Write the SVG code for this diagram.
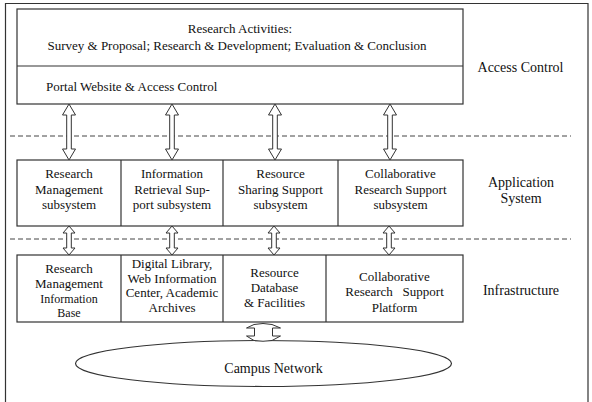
<svg xmlns="http://www.w3.org/2000/svg" width="592" height="402" viewBox="0 0 592 402">
<style>
  .box{fill:#fff;stroke:#333;stroke-width:1.2}
  .ln{fill:none;stroke:#333;stroke-width:1.2}
  .dash{fill:none;stroke:#444;stroke-width:1;stroke-dasharray:5,3}
  .arr{fill:#fff;stroke:#333;stroke-width:1}
  text{font-family:"Liberation Serif",serif;fill:#111;text-anchor:middle}
  .t13{font-size:13px}
  .t12{font-size:12px}
  .t14{font-size:14px}
</style>
<rect x="0" y="0" width="592" height="402" fill="#fff"/>
<path class="ln" d="M5.5,404 V3.5 H588 V404" stroke="#555" stroke-width="1.4"/>

<g id="dividers">
  <line class="dash" x1="10" y1="136" x2="571" y2="136"/>
  <line class="dash" x1="10" y1="239" x2="571" y2="239"/>
</g>

<g id="top-box" font-family="Liberation Serif, serif">
  <rect class="box" x="17" y="9" width="446" height="95"/>
  <line class="ln" x1="17" y1="66" x2="463" y2="66"/>
  <text class="t13" x="240" y="33">Research Activities:</text>
  <text class="t13" x="237" y="50">Survey &amp; Proposal; Research &amp; Development; Evaluation &amp; Conclusion</text>
  <text class="t13" x="46" y="91" style="text-anchor:start">Portal Website &amp; Access Control</text>
</g>

<g id="app-system">
  <rect class="box" x="17" y="160" width="446" height="66"/>
  <line class="ln" x1="121" y1="160" x2="121" y2="226"/>
  <line class="ln" x1="223" y1="160" x2="223" y2="226"/>
  <line class="ln" x1="338" y1="160" x2="338" y2="226"/>
  <g id="app-rm">
    <text class="t13" x="69" y="178">Research</text>
    <text class="t13" x="69" y="193.5">Management</text>
    <text class="t13" x="69" y="209">subsystem</text>
  </g>
  <g id="app-ir">
    <text class="t13" x="172" y="178">Information</text>
    <text class="t13" x="172" y="193.5">Retrieval Sup-</text>
    <text class="t13" x="172" y="209">port subsystem</text>
  </g>
  <g id="app-rs">
    <text class="t13" x="280.5" y="178">Resource</text>
    <text class="t13" x="280.5" y="193.5">Sharing Support</text>
    <text class="t13" x="280.5" y="209">subsystem</text>
  </g>
  <g id="app-cr">
    <text class="t13" x="400.5" y="178">Collaborative</text>
    <text class="t13" x="400.5" y="193.5">Research Support</text>
    <text class="t13" x="400.5" y="209">subsystem</text>
  </g>
</g>

<g id="infrastructure">
  <rect class="box" x="17" y="255" width="446" height="67"/>
  <line class="ln" x1="121" y1="255" x2="121" y2="322"/>
  <line class="ln" x1="223" y1="255" x2="223" y2="322"/>
  <line class="ln" x1="326" y1="255" x2="326" y2="322"/>
  <g id="inf-rm">
    <text class="t13" x="69" y="273">Research</text>
    <text class="t13" x="69" y="288">Management</text>
    <text class="t12" x="69" y="303">Information</text>
    <text class="t12" x="69" y="317">Base</text>
  </g>
  <g id="inf-dl">
    <text class="t13" x="172" y="268">Digital Library,</text>
    <text class="t13" x="172" y="282.5">Web Information</text>
    <text class="t13" x="172" y="297">Center, Academic</text>
    <text class="t13" x="172" y="311.5">Archives</text>
  </g>
  <g id="inf-rd">
    <text class="t13" x="274.5" y="277">Resource</text>
    <text class="t13" x="274.5" y="292">Database</text>
    <text class="t13" x="274.5" y="307">&amp; Facilities</text>
  </g>
  <g id="inf-cr">
    <text class="t13" x="394.5" y="281">Collaborative</text>
    <text class="t13" x="394.5" y="296" style="white-space:pre">Research   Support</text>
    <text class="t13" x="394.5" y="312">Platform</text>
  </g>
</g>

<g id="campus-network">
  <ellipse class="box" cx="263.5" cy="363.5" rx="188" ry="23"/>
  <text class="t14" x="273.5" y="373">Campus Network</text>
</g>

<g id="labels">
  <text class="t14" x="520.5" y="72">Access Control</text>
  <text class="t14" x="521" y="187">Application</text>
  <text class="t14" x="521" y="203">System</text>
  <text class="t14" x="521" y="295">Infrastructure</text>
</g>

<g id="connectors">
  <path class="arr" d="M69,104 L75.5,115 L71.3,115 L71.3,149 L75.5,149 L69,160 L62.5,149 L66.7,149 L66.7,115 L62.5,115 Z"/>
  <path class="arr" d="M172,104 L178.5,115 L174.3,115 L174.3,149 L178.5,149 L172,160 L165.5,149 L169.7,149 L169.7,115 L165.5,115 Z"/>
  <path class="arr" d="M275,104 L281.5,115 L277.3,115 L277.3,149 L281.5,149 L275,160 L268.5,149 L272.7,149 L272.7,115 L268.5,115 Z"/>
  <path class="arr" d="M390,104 L396.5,115 L392.3,115 L392.3,149 L396.5,149 L390,160 L383.5,149 L387.7,149 L387.7,115 L383.5,115 Z"/>

  <path class="arr" d="M69,226 L75,233 L71.3,233 L71.3,248 L75,248 L69,255 L63,248 L66.7,248 L66.7,233 L63,233 Z"/>
  <path class="arr" d="M172,226 L178,233 L174.3,233 L174.3,248 L178,248 L172,255 L166,248 L169.7,248 L169.7,233 L166,233 Z"/>
  <path class="arr" d="M274,226 L280,233 L276.3,233 L276.3,248 L280,248 L274,255 L268,248 L271.7,248 L271.7,233 L268,233 Z"/>
  <path class="arr" d="M389,226 L395,233 L391.3,233 L391.3,248 L395,248 L389,255 L383,248 L386.7,248 L386.7,233 L383,233 Z"/>

  <path class="arr" d="M254,324.5 Q263,322.5 272,324.5 L280.5,328 L272.5,328 L272.5,336 L280.5,336 L272,340.5 Q263,342 254,340.5 L246.5,336 L254.5,336 L254.5,328 L246.5,328 Z"/>
</g>
</svg>
